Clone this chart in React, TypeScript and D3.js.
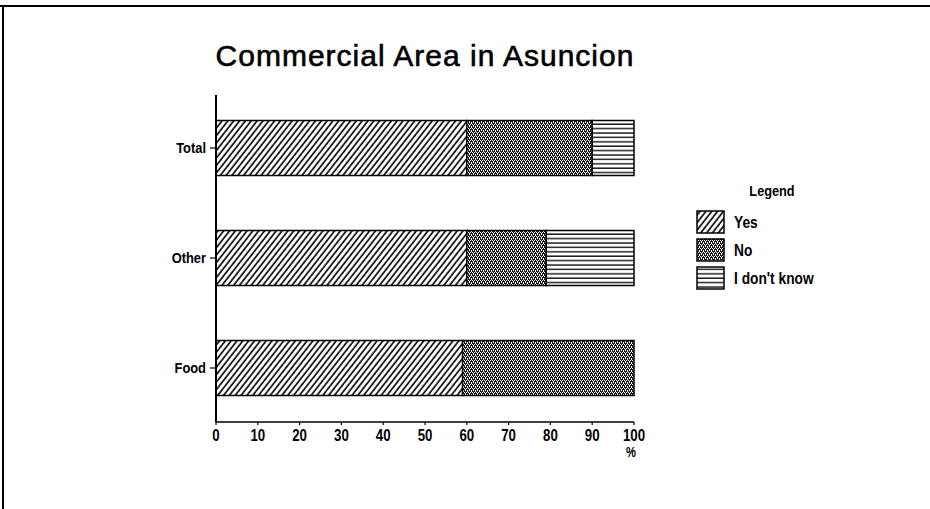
import { useEffect, useRef } from "react";
import * as d3 from "d3";

const categories = ["Total", "Other", "Food"];
const seriesNames = ["Yes", "No", "I don't know"];
const yesValues = [60, 60, 59];
const noValues = [30, 19, 41];
const dontKnowValues = [10, 21, 0];
const xTicks = [0, 10, 20, 30, 40, 50, 60, 70, 80, 90, 100];

const W = 930;
const H = 509;
const FONT = "'Liberation Sans', Arial, sans-serif";

// narrow-looking label: horizontally squeezed bold text
const squeezed = (sel: any, px: number, py: number, sx: number, size: number, anchor: string, txt: string) => {
    sel.append("text")
        .attr("transform", `translate(${px},${py}) scale(${sx},1)`)
        .attr("dy", "0.35em")
        .attr("text-anchor", anchor)
        .attr("font-family", FONT)
        .attr("font-weight", "bold")
        .attr("font-size", size)
        .attr("fill", "#000")
        .text(txt);
};

const App = () => {
    const svgRef = useRef<SVGSVGElement>(null);

    useEffect(() => {
        if (!svgRef.current) return;
        const svg = d3.select(svgRef.current);
        svg.selectAll("*").remove();

        // Patterns
        const defs = svg.append("defs");
        const pYes = defs.append("pattern")
            .attr("id", "pat-yes")
            .attr("patternUnits", "userSpaceOnUse")
            .attr("width", 4.6)
            .attr("height", 10)
            .attr("patternTransform", "rotate(38)");
        pYes.append("rect").attr("width", 4.6).attr("height", 10).attr("fill", "#fff");
        pYes.append("line")
            .attr("x1", 1).attr("x2", 1).attr("y1", 0).attr("y2", 10)
            .attr("stroke", "#000").attr("stroke-width", 1.6);

        const pNo = defs.append("pattern")
            .attr("id", "pat-no")
            .attr("patternUnits", "userSpaceOnUse")
            .attr("width", 4)
            .attr("height", 4);
        pNo.append("rect").attr("width", 4).attr("height", 4).attr("fill", "#1a1a1a");
        [[0, 0], [2, 0], [1, 2], [3, 2], [1, 1], [3, 3]].forEach(([x, y]) => {
            pNo.append("rect").attr("x", x).attr("y", y).attr("width", 1).attr("height", 1).attr("fill", "#fff");
        });

        const pIdk = defs.append("pattern")
            .attr("id", "pat-idk")
            .attr("patternUnits", "userSpaceOnUse")
            .attr("width", 10)
            .attr("height", 4.4);
        pIdk.append("rect").attr("width", 10).attr("height", 4.4).attr("fill", "#fff");
        pIdk.append("line")
            .attr("x1", 0).attr("x2", 10).attr("y1", 1).attr("y2", 1)
            .attr("stroke", "#000").attr("stroke-width", 1.3);

        const fills = ["url(#pat-yes)", "url(#pat-no)", "url(#pat-idk)"];

        // Frame (top and left edges only)
        svg.append("line").attr("x1", 0).attr("x2", W).attr("y1", 6).attr("y2", 6)
            .attr("stroke", "#000").attr("stroke-width", 2);
        svg.append("line").attr("x1", 3).attr("x2", 3).attr("y1", 5).attr("y2", H)
            .attr("stroke", "#000").attr("stroke-width", 2);

        // Title
        svg.append("text")
            .attr("x", 425)
            .attr("y", 66)
            .attr("text-anchor", "middle")
            .attr("font-family", FONT)
            .attr("font-size", 30)
            .attr("letter-spacing", 1)
            .attr("fill", "#000")
            .attr("stroke", "#000")
            .attr("stroke-width", 0.6)
            .text("Commercial Area in Asuncion");

        // Scales
        const x = d3.scaleLinear().domain([0, 100]).range([216, 634]);
        const y = d3.scaleBand<string>()
            .domain(categories)
            .range([93, 423])
            .paddingInner(0.5)
            .paddingOuter(0.25);

        const rows = categories.map((c, i) => ({ cat: c, vals: [yesValues[i], noValues[i], dontKnowValues[i]] }));
        const stacked = d3.stack<any>()
            .keys([0, 1, 2] as any)
            .value((d: any, k: any) => d.vals[k])(rows as any);

        stacked.forEach((layer, si) => {
            svg.append("g")
                .selectAll("rect")
                .data(layer)
                .enter()
                .append("rect")
                .attr("x", (d) => x(d[0]))
                .attr("y", (d: any) => y(d.data.cat) as number)
                .attr("width", (d) => x(d[1]) - x(d[0]))
                .attr("height", y.bandwidth())
                .attr("fill", fills[si])
                .attr("stroke", "#000")
                .attr("stroke-width", 1.5)
                .attr("display", (d) => (d[1] - d[0] > 0 ? null : "none"));
        });

        // Y axis
        svg.append("line").attr("x1", 216).attr("x2", 216).attr("y1", 95).attr("y2", 422)
            .attr("stroke", "#000").attr("stroke-width", 2);
        categories.forEach((c) => {
            const cy = (y(c) as number) + y.bandwidth() / 2;
            svg.append("line").attr("x1", 210).attr("x2", 216).attr("y1", cy).attr("y2", cy)
                .attr("stroke", "#000").attr("stroke-width", 1.2);
            squeezed(svg, 206, cy, 0.86, 15, "end", c);
        });

        // X axis
        svg.append("line").attr("x1", 216).attr("x2", 634).attr("y1", 422).attr("y2", 422)
            .attr("stroke", "#000").attr("stroke-width", 1.3);
        xTicks.forEach((t) => {
            svg.append("line").attr("x1", x(t)).attr("x2", x(t)).attr("y1", 422).attr("y2", 425)
                .attr("stroke", "#000").attr("stroke-width", 1.2);
            squeezed(svg, x(t), 435, 0.78, 17, "middle", String(t));
        });
        squeezed(svg, x(100) - 3, 452, 0.8, 14, "middle", "%");

        // Legend
        squeezed(svg, 772, 191, 0.85, 15, "middle", "Legend");
        seriesNames.forEach((name, i) => {
            const ly = 222 + i * 28;
            svg.append("rect")
                .attr("x", 697)
                .attr("y", ly - 11)
                .attr("width", 27)
                .attr("height", 22)
                .attr("fill", fills[i])
                .attr("stroke", "#000")
                .attr("stroke-width", 1.5);
            squeezed(svg, 734, ly, 0.86, 16, "start", name);
        });
    }, []);

    return (
        <svg
            ref={svgRef}
            width={W}
            height={H}
            style={{ position: "absolute", left: 0, top: 0, background: "#fff" }}
        />
    );
};

export default App;
